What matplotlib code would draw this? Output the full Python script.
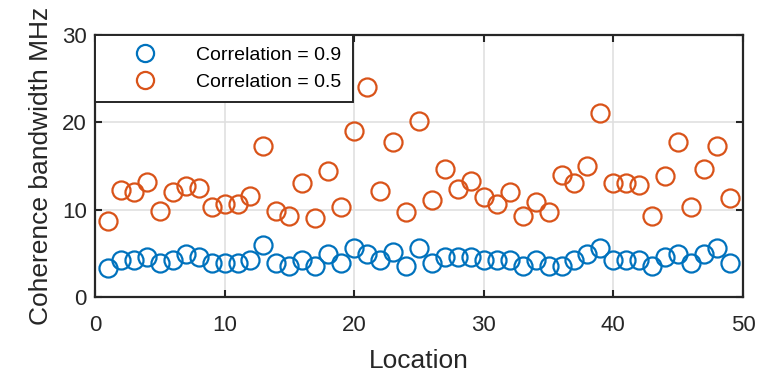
import numpy as np
import matplotlib
matplotlib.use('Agg')
import matplotlib.pyplot as plt

# Datos
ubicacion = list(range(1, 50))
corr_09 = [3.3, 4.2, 4.2, 4.6, 3.9, 4.2, 4.9, 4.6, 3.9, 3.9,
           3.9, 4.2, 5.9, 3.9, 3.5, 4.2, 3.5, 4.9, 3.9, 5.6,
           4.9, 4.2, 5.2, 3.5, 5.6, 3.9, 4.6, 4.6, 4.6, 4.2,
           4.2, 4.2, 3.5, 4.2, 3.5, 3.5, 4.2, 4.9, 5.6, 4.2,
           4.2, 4.2, 3.5, 4.6, 4.9, 3.9, 4.9, 5.6, 3.9]
corr_05 = [8.7, 12.3, 12.0, 13.2, 9.9, 12.0, 12.7, 12.5, 10.3, 10.6,
           10.6, 11.6, 17.3, 9.9, 9.3, 13.0, 9.0, 14.4, 10.3, 19.0,
           24.0, 12.1, 17.8, 9.7, 20.1, 11.1, 14.7, 12.4, 13.3, 11.4,
           10.6, 12.0, 9.3, 10.9, 9.7, 14.0, 13.0, 15.0, 21.1, 13.0,
           13.0, 12.8, 9.3, 13.9, 17.7, 10.3, 14.7, 17.3, 11.3]
etiquetas = ['Correlation = 0.9', 'Correlation = 0.5']

plt.rcParams['font.family'] = ['Liberation Sans', 'DejaVu Sans']

fig = plt.figure(figsize=(7.74, 3.71), dpi=100)
ax = fig.add_axes([0.1227, 0.1995, 0.8372, 0.7062])

ax.plot(ubicacion, corr_09, linestyle='none', marker='o', markersize=13,
        markerfacecolor='none', markeredgecolor='#0072BD', markeredgewidth=1.6,
        label=etiquetas[0])
ax.plot(ubicacion, corr_05, linestyle='none', marker='o', markersize=13,
        markerfacecolor='none', markeredgecolor='#D95319', markeredgewidth=1.6,
        label=etiquetas[1])

ax.set_xlim(0, 50)
ax.set_ylim(0, 30)
ax.set_xticks([0, 10, 20, 30, 40, 50])
ax.set_yticks([0, 10, 20, 30])
ax.grid(True, color='#e0e0e0', linewidth=1.2)
ax.set_axisbelow(True)
ax.tick_params(direction='in', length=5, width=1.5, labelsize=16,
               colors='#262626', top=True, right=True)
ax.tick_params(axis='x', pad=13)
ax.tick_params(axis='y', pad=6)
for s in ax.spines.values():
    s.set_linewidth(1.6)
    s.set_color('#262626')

ax.set_xlabel('Location', fontsize=19, color='#262626', labelpad=9)
ax.set_ylabel('Coherence bandwidth MHz', fontsize=19, color='#262626', labelpad=6)

leg = ax.legend(loc='upper left', fontsize=14, frameon=True, fancybox=False,
                borderaxespad=0, borderpad=0.6, handletextpad=0.7,
                handlelength=3.9, labelspacing=0.45, markerscale=0.95)
leg.get_frame().set_edgecolor('#262626')
leg.get_frame().set_linewidth(1.4)
leg.get_frame().set_alpha(1)

fig.savefig('out.png', dpi=100)
